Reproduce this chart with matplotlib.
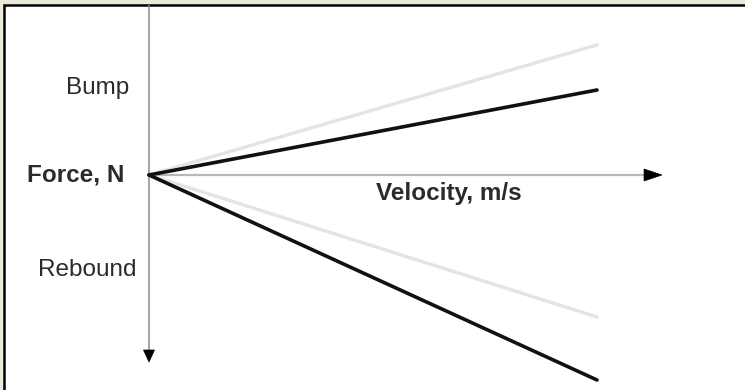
import matplotlib
matplotlib.use("Agg")
import matplotlib.pyplot as plt
from matplotlib.patches import Rectangle, Polygon

# Data (velocity in relative units, force in relative units)
velocity = [0.0, 1.0]
bump_light = [0.0, 1.30]
bump_dark = [0.0, 0.85]
rebound_light = [0.0, -1.42]
rebound_dark = [0.0, -2.05]

labels = {"bump": "Bump", "force": "Force, N", "velocity": "Velocity, m/s", "rebound": "Rebound"}

W, H = 745, 390
fig = plt.figure(figsize=(W / 100, H / 100), dpi=100)
fig.patch.set_facecolor("#ece9d8")

# white panel with black frame (top & left visible)
fig.patches.append(Rectangle((4, -20), 800, H - 4.5 + 20, transform=None,
                             facecolor="white", edgecolor="black", lw=1.8, zorder=-5))

ax = fig.add_axes([0, 0, 1, 1])
ax.set_zorder(5)
ax.set_facecolor("none")
ax.patch.set_alpha(0)
ax.axis("off")
# origin at pixel (149,175); 448 px per velocity unit, 100 px per force unit
ax.set_xlim(-149 / 448, (W - 149) / 448)
ax.set_ylim((175 - H) / 100, 175 / 100)

# axes arrows
ax.plot([0, 1.105], [0, 0], color="#b8b8b8", lw=1.6, solid_capstyle="butt", zorder=1)
ax.add_patch(Polygon([[1.105, 0.06], [1.145, 0.0], [1.105, -0.06]], closed=True,
                     facecolor="black", edgecolor="black", lw=0.5, zorder=3))
ax.plot([0, 0], [1.70, -1.75], color="#8c8c8c", lw=1.1, solid_capstyle="butt", zorder=1)
ax.add_patch(Polygon([[-0.0123, -1.75], [0.0, -1.87], [0.0123, -1.75]], closed=True,
                     facecolor="black", edgecolor="black", lw=0.5, zorder=3))

# characteristic lines
ax.plot(velocity, bump_light, color="#e4e4e4", lw=2.4, solid_capstyle="round", zorder=2)
ax.plot(velocity, rebound_light, color="#e4e4e4", lw=2.4, solid_capstyle="round", zorder=2)
ax.plot(velocity, bump_dark, color="#111111", lw=2.6, solid_capstyle="round", zorder=4)
ax.plot(velocity, rebound_dark, color="#111111", lw=2.6, solid_capstyle="round", zorder=4)

fam = ["Liberation Sans", "DejaVu Sans"]
tc = "#2b2b2b"
fs = 17.5
ax.text((129 - 149) / 448, (175 - 94) / 100, labels["bump"], ha="right", va="baseline",
        fontsize=fs, color=tc, family=fam)
ax.text((124 - 149) / 448, (175 - 182) / 100, labels["force"], ha="right", va="baseline",
        fontsize=fs, color=tc, family=fam, fontweight="bold")
ax.text((449 - 149) / 448, (175 - 200) / 100, labels["velocity"], ha="center", va="baseline",
        fontsize=fs, color=tc, family=fam, fontweight="bold")
ax.text((137 - 149) / 448, (175 - 276) / 100, labels["rebound"], ha="right", va="baseline",
        fontsize=fs, color=tc, family=fam)

fig.savefig("out.png", dpi=100, facecolor=fig.get_facecolor())
